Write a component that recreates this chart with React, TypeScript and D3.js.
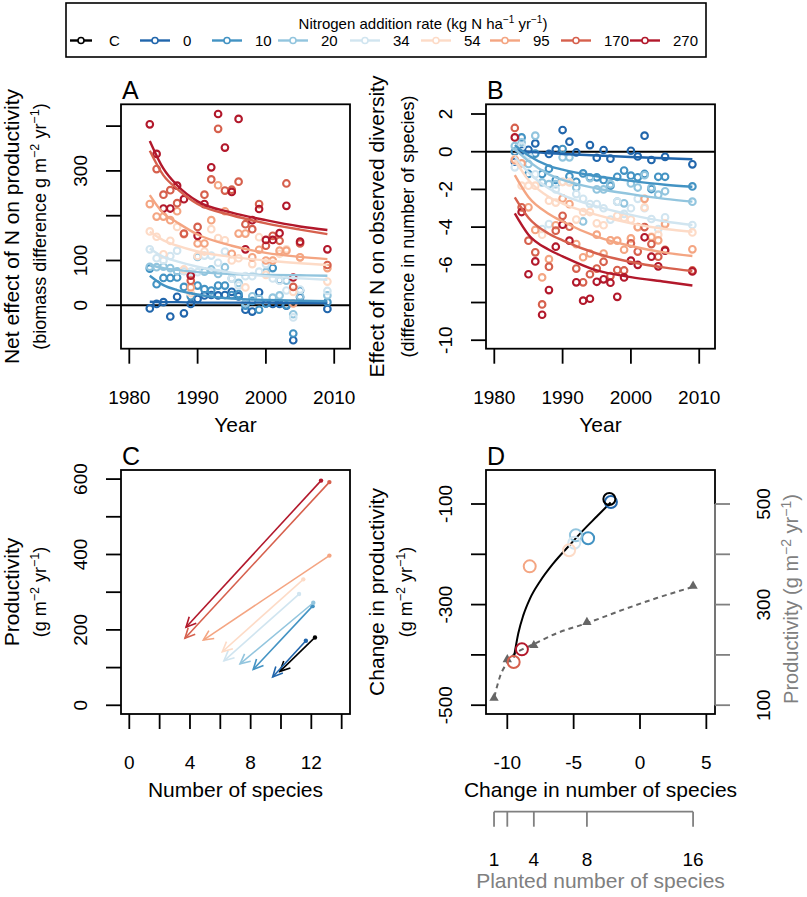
import React from 'react';
import * as d3 from 'd3';

// ---------- data ----------
const LEVELS = ['C', '0', '10', '20', '34', '54', '95', '170', '270'];
const COLORS = ['#000000', '#2166ac', '#4393c3', '#92c5de', '#d1e5f0', '#fddbc7', '#f4a582', '#d6604d', '#b2182b'];

const YEARS = [1983, 1984, 1985, 1986, 1987, 1988, 1989, 1990, 1991, 1992, 1993, 1994, 1995, 1996, 1997, 1998, 1999, 2000, 2001, 2002, 2003, 2004, 2005, 2009];

// Panel A: net effect of N on productivity (g m-2 yr-1)
const A_0 = [-7, 3, 7, -25, 19, -18, 3, 14, 22, 23, 22, 23, 30, 20, -10, -14, 29, 4, 3, 3, -1, -78, 18, -8];
const A_10 = [82, 47, 61, 61, 62, 41, 20, 44, 36, 33, 44, 44, 23, 25, -1, 10, -10, 4, 83, 56, 0, -63, 33, 7];
const A_20 = [86, 85, 86, 83, 76, 77, 68, 108, 75, 80, 70, 85, 60, 50, 5, 20, 15, 74, 17, 22, 55, -20, 20, 22];
const A_34 = [125, 105, 100, 110, 122, 77, 75, 74, 111, 111, 95, 120, 60, 44, 65, 65, 75, 92, 60, 55, 33, -27, 35, 32];
const A_54 = [165, 153, 114, 144, 175, 80, 27, 110, 120, 170, 150, 145, 100, 105, 40, 92, 152, 68, 100, 115, 125, 30, 107, 53];
const A_95 = [226, 198, 198, 190, 210, 159, 40, 138, 138, 190, 268, 210, 115, 160, 160, 107, 124, 100, 100, 122, 122, 4, 107, 83];
const A_170 = [null, 304, 247, 257, 228, 160, 55, 175, 247, 281, 394, 256, 258, 276, 181, 170, 226, 133, 155, 144, 272, 41, 138, 90];
const A_270 = [404, 338, 216, 216, 267, 237, 66, 155, 226, 308, 427, 352, 253, 416, 125, 190, 215, 146, 146, 161, 222, 62, 142, 125];
const A_SERIES = [A_0, A_10, A_20, A_34, A_54, A_95, A_170, A_270];

const TREND_YEARS_A = [1983, 1985, 1987, 1990, 1995, 2000, 2005, 2009];
const A_TREND_0 = [8, 7, 7, 6, 6, 6, 5, 5];
const A_TREND_10 = [66, 45, 34, 24, 15, 12, 10, 9];
const A_TREND_20 = [90, 83, 79, 74, 70, 68, 67, 66];
const A_TREND_34 = [127, 108, 98, 86, 73, 65, 60, 57];
const A_TREND_54 = [164, 145, 133, 120, 108, 100, 94, 90];
const A_TREND_95 = [246, 205, 185, 158, 133, 117, 108, 103];
const A_TREND_170 = [345, 290, 260, 226, 201, 183, 169, 159];
const A_TREND_270 = [367, 305, 268, 232, 207, 190, 176, 168];
const A_TRENDS = [A_TREND_0, A_TREND_10, A_TREND_20, A_TREND_34, A_TREND_54, A_TREND_95, A_TREND_170, A_TREND_270];

// Panel B: effect of N on observed diversity (species)
const B_0 = [-0.53, 0.05, 0.1, 0.44, null, -0.12, 0.12, 1.15, 0.53, -0.04, null, 0.35, -0.32, 0.09, -0.37, null, null, 0.05, -0.25, 0.85, -0.44, null, -0.27, -0.67];
const B_10 = [0.0, 0.76, -1.18, -0.1, -1.18, -0.9, -1.5, 0.14, -1.3, -1.6, -1.15, -1.36, -1.36, -1.5, -1.8, -1.33, -1.0, -1.27, -1.36, -1.18, -1.98, -1.33, -1.33, -1.84];
const B_20 = [0.3, 0.5, -0.65, 0.85, -1.63, -1.72, -1.72, -0.3, -0.3, -1.9, -3.7, -1.4, -2.0, -2.0, -1.72, -2.65, -2.74, -1.68, -1.9, -1.25, -1.9, -2.28, -2.1, -2.65];
const B_34 = [-0.83, 0.3, -0.2, -1.2, -4.1, -3.84, -2.0, -1.6, -1.6, -2.25, -2.5, -2.78, -2.78, -3.0, -3.6, -2.65, -3.3, -3.0, -2.5, -3.0, -3.57, -4.1, -3.48, -3.89];
const B_54 = [-0.39, -1.8, -1.8, -1.8, -4.4, -2.6, -2.7, -1.6, -1.63, -3.6, -3.2, -3.2, -3.8, -3.9, -4.7, -3.4, -3.5, -3.6, -4.0, -2.95, -4.5, -4.4, -3.8, -4.28];
const B_95 = [-0.45, -0.62, -2.95, -4.15, -6.67, -5.7, -3.9, -2.48, -2.78, -4.9, -5.6, -5.4, -4.4, -5.4, -4.7, -4.72, -5.2, -4.6, -4.0, -2.5, -4.54, -4.7, -3.85, -5.18];
const B_170 = [1.26, -2.95, -4.72, -5.34, -8.1, -6.1, -4.19, -3.4, -3.98, -6.2, -6.93, -6.5, -6.2, -5.84, -6.6, -6.28, -6.3, -4.86, -5.3, -4.0, -4.9, -5.57, -5.2, -6.3];
const B_270 = [0.76, -3.2, -6.5, -5.82, -8.65, -7.34, -5.04, -3.87, -4.72, -6.93, -7.9, -7.8, -6.9, -6.77, -6.95, -7.7, -6.67, -5.78, -6.0, -4.54, -5.57, -6.08, -5.25, -6.35];
const B_SERIES = [B_0, B_10, B_20, B_34, B_54, B_95, B_170, B_270];

const TREND_YEARS_B = [1983, 1985, 1988, 1990, 1995, 2000, 2005, 2009];
const B_TREND_0 = [0.05, 0.0, -0.08, -0.12, -0.2, -0.28, -0.35, -0.4];
const B_TREND_10 = [0.35, -0.2, -0.75, -0.95, -1.3, -1.55, -1.75, -1.86];
const B_TREND_20 = [0.15, -0.5, -1.2, -1.5, -1.95, -2.25, -2.5, -2.65];
const B_TREND_34 = [-0.25, -1.1, -1.95, -2.3, -2.9, -3.35, -3.7, -3.89];
const B_TREND_54 = [-0.44, -1.5, -2.4, -2.75, -3.35, -3.8, -4.1, -4.25];
const B_TREND_95 = [-1.24, -2.4, -3.3, -3.7, -4.5, -5.0, -5.35, -5.53];
const B_TREND_170 = [-2.42, -3.5, -4.35, -4.7, -5.4, -5.85, -6.15, -6.33];
const B_TREND_270 = [-3.27, -4.4, -5.2, -5.55, -6.3, -6.65, -6.9, -7.1];
const B_TRENDS = [B_TREND_0, B_TREND_10, B_TREND_20, B_TREND_34, B_TREND_54, B_TREND_95, B_TREND_170, B_TREND_270];

// Panel C: start (early) and end (late) species number and productivity, per level (C,0,...,270)
const C_START_SPECIES = [12.24, 11.64, 12.08, 12.13, 11.19, 11.47, 13.19, 13.19, 12.64];
const C_START_PROD = [180, 171, 263, 272, 295, 334, 397, 592, 596];
const C_END_SPECIES = [9.93, 9.45, 8.17, 7.3, 6.24, 6.13, 4.88, 3.67, 3.74];
const C_END_PROD = [90, 75, 95, 110, 118, 142, 173, 178, 207];

// Panel D: fitted curve (change in species vs change in productivity)
const D_FIT_X = [-9.5, -9.17, -8.79, -8.29, -7.54, -6.53, -5.28, -4.27, -3.26, -2.21];
const D_FIT_Y = [-405, -357, -321, -288, -254, -218, -181, -152, -125, -97];

// Panel D: planted diversity experiment (grey)
const PLANTED = [1, 2, 4, 8, 16];
const PLANTED_LABELS = ['1', '', '4', '8', '16'];
const PLANTED_PROD = [114, 191, 219, 265, 337];
const PLANTED_FIT_S = [1.02, 1.45, 1.95, 2.45, 3.21, 3.96, 5.72, 7.98, 10.74, 13.26, 15.97];
const PLANTED_FIT_PROD = [116, 157, 183, 200, 212, 221, 243, 263, 290, 313, 335];
const PLANTED_OFFSET = 12; // planted species aligned on change axis at (S - 12)

// ticks
const YEAR_TICKS = [1980, 1990, 2000, 2010];
const A_TICKS = [0, 100, 200, 300, 400];
const A_TICK_LABELS = [0, 100, 300];
const B_TICKS = [2, 0, -2, -4, -6, -8, -10];
const B_TICK_LABELS = [2, 0, -2, -4, -6, -10];
const C_YTICKS = [0, 100, 200, 300, 400, 500, 600];
const C_YTICK_LABELS = [0, 200, 400, 600];
const C_XTICKS = [0, 2, 4, 6, 8, 10, 12, 14];
const C_XTICK_LABELS = [0, 4, 8, 12];
const D_XTICKS = [-10, -5, 0, 5];
const D_YTICKS = [-500, -400, -300, -200, -100];
const D_YTICK_LABELS = [-500, -300, -100];
const D_RTICKS = [100, 200, 300, 400, 500];
const D_RTICK_LABELS = [100, 300, 500];

// ---------- layout ----------
const FONT = 'Liberation Sans, Arial, Helvetica, sans-serif';
const L1 = 121, R1 = 350, L2 = 486, R2 = 715;
const T1 = 104.3, B1 = 348.7, T2 = 470, B2 = 714;
const GREY = '#808080';

const xYearA = d3.scaleLinear().domain([1978.785, 2012.31]).range([L1, R1]);
const xYearB = d3.scaleLinear().domain([1978.785, 2012.31]).range([L2, R2]);
const yA = d3.scaleLinear().domain([-96.9, 448.7]).range([B1, T1]);
const yB = d3.scaleLinear().domain([-10.45, 2.515]).range([B1, T1]);
const xC = d3.scaleLinear().domain([-0.547, 14.549]).range([L1, R1]);
const yC = d3.scaleLinear().domain([-23.1, 624.1]).range([B2, T2]);
const xD = d3.scaleLinear().domain([-11.605, 5.652]).range([L2, R2]);
const yD = d3.scaleLinear().domain([-517.5, -32.4]).range([B2, T2]);
const yDR = d3.scaleLinear().domain([82.5, 567.6]).range([B2, T2]);

const Units = ({ prefix, d = 7 }: { prefix: string; d?: number }) => (
  <>
    {prefix}m
    <tspan dy={-d} fontSize="0.7em">{'\u22122'}</tspan>
    <tspan dy={d}> yr</tspan>
    <tspan dy={-d} fontSize="0.7em">{'\u22121'}</tspan>
    <tspan dy={d}>)</tspan>
  </>
);

function Box({ l, r, t, b }: { l: number; r: number; t: number; b: number }) {
  return <rect x={l} y={t} width={r - l} height={b - t} fill="none" stroke="#000" strokeWidth={1.8} />;
}

function XAxis({ scale, ticks, labels, y }: any) {
  return (
    <g>
      {ticks.map((v: number) => (
        <line key={'t' + v} x1={scale(v)} x2={scale(v)} y1={y} y2={y + 15} stroke="#000" strokeWidth={1.8} />
      ))}
      {labels.map((v: number) => (
        <text key={'l' + v} x={scale(v)} y={y + 55} textAnchor="middle" fontSize={19} fontFamily={FONT}>
          {String(v)}
        </text>
      ))}
    </g>
  );
}

function YAxis({ scale, ticks, labels, x, side = 'left', color = '#000' }: any) {
  const dir = side === 'left' ? -1 : 1;
  const lx = side === 'left' ? x - 34 : x + 55;
  return (
    <g>
      {side === 'right' && (
        <line x1={x} x2={x} y1={scale(d3.min(ticks) as number)} y2={scale(d3.max(ticks) as number)} stroke={color} strokeWidth={1.8} />
      )}
      {ticks.map((v: number) => (
        <line key={'t' + v} x1={x} x2={x + dir * 15} y1={scale(v)} y2={scale(v)} stroke={color} strokeWidth={1.8} />
      ))}
      {labels.map((v: number) => (
        <text key={'l' + v} transform={`translate(${lx},${scale(v)}) rotate(-90)`} textAnchor="middle" fontSize={19} fontFamily={FONT} fill="#000">
          {String(v)}
        </text>
      ))}
    </g>
  );
}

function RotText({ x, y, size, children, fill = '#000' }: any) {
  return (
    <text transform={`translate(${x},${y}) rotate(-90)`} textAnchor="middle" fontSize={size} fontFamily={FONT} fill={fill}>
      {children}
    </text>
  );
}

function TimePanel({ xs, ys, series, trends, trendYears, l, r }: any) {
  const line = d3
    .line<[number, number]>()
    .x((d) => xs(d[0]))
    .y((d) => ys(d[1]))
    .curve(d3.curveMonotoneX);
  return (
    <g>
      <line x1={l} x2={r} y1={ys(0)} y2={ys(0)} stroke="#000" strokeWidth={2} />
      {series.map((vals: (number | null)[], si: number) => (
        <g key={'p' + si}>
          {vals.map((v, i) =>
            v === null ? null : (
              <circle key={i} cx={xs(YEARS[i])} cy={ys(v)} r={3.3} fill="none" stroke={COLORS[si + 1]} strokeWidth={2.1} />
            )
          )}
        </g>
      ))}
      {trends.map((vals: number[], si: number) => (
        <path
          key={'t' + si}
          d={line(vals.map((v, i) => [trendYears[i], v] as [number, number])) || ''}
          fill="none"
          stroke={COLORS[si + 1]}
          strokeWidth={2.4}
        />
      ))}
    </g>
  );
}

function Arrows() {
  return (
    <g>
      {LEVELS.map((lev, i) => {
        const sx = xC(C_START_SPECIES[i]);
        const sy = yC(C_START_PROD[i]);
        const ex = xC(C_END_SPECIES[i]);
        const ey = yC(C_END_PROD[i]);
        const ang = Math.atan2(sy - ey, sx - ex);
        const hl = 11;
        const a1 = ang + 0.45;
        const a2 = ang - 0.45;
        return (
          <g key={lev} stroke={COLORS[i]} strokeWidth={1.6} fill="none">
            <line x1={sx} y1={sy} x2={ex} y2={ey} />
            <polyline points={`${ex + hl * Math.cos(a1)},${ey + hl * Math.sin(a1)} ${ex},${ey} ${ex + hl * Math.cos(a2)},${ey + hl * Math.sin(a2)}`} />
            <circle cx={sx} cy={sy} r={2.2} fill={COLORS[i]} stroke="none" />
          </g>
        );
      })}
    </g>
  );
}

function PanelD() {
  const fit = d3
    .line<[number, number]>()
    .x((d) => xD(d[0]))
    .y((d) => yD(d[1]))
    .curve(d3.curveMonotoneX);
  const planted = d3
    .line<[number, number]>()
    .x((d) => xD(d[0] - PLANTED_OFFSET))
    .y((d) => yDR(d[1]))
    .curve(d3.curveMonotoneX);
  const tri = d3.symbol().type(d3.symbolTriangle).size(38)();
  return (
    <g>
      <path
        d={planted(PLANTED_FIT_S.map((s, i) => [s, PLANTED_FIT_PROD[i]] as [number, number])) || ''}
        fill="none"
        stroke="#666"
        strokeWidth={2}
        strokeDasharray="5,4"
      />
      {PLANTED.map((s, i) => (
        <path key={s} d={tri || ''} transform={`translate(${xD(s - PLANTED_OFFSET)},${yDR(PLANTED_PROD[i])})`} fill="#666" />
      ))}
      <path d={fit(D_FIT_X.map((x, i) => [x, D_FIT_Y[i]] as [number, number])) || ''} fill="none" stroke="#000" strokeWidth={2} />
      {[1, 2, 3, 4, 5, 6, 7, 8, 0].map((i) => (
        <circle
          key={i}
          cx={xD(C_END_SPECIES[i] - C_START_SPECIES[i])}
          cy={yD(C_END_PROD[i] - C_START_PROD[i])}
          r={6}
          fill="none"
          stroke={COLORS[i]}
          strokeWidth={2}
        />
      ))}
    </g>
  );
}

function Legend() {
  const centers = [81, 155, 227, 293, 365, 436, 505, 576, 645];
  return (
    <g fontFamily={FONT}>
      <rect x={66} y={3} width={640} height={54} fill="#fff" stroke="#000" strokeWidth={1.6} />
      <text x={423} y={29} textAnchor="middle" fontSize={15}>
        Nitrogen addition rate (kg N ha
        <tspan dy={-6} fontSize={10}>{'\u22121'}</tspan>
        <tspan dy={6}> yr</tspan>
        <tspan dy={-6} fontSize={10}>{'\u22121'}</tspan>
        <tspan dy={6}>)</tspan>
      </text>
      {LEVELS.map((lev, i) => (
        <g key={lev}>
          <line x1={i === 0 ? 70 : centers[i] - 15} x2={i === 0 ? 92 : centers[i] + 15} y1={40.5} y2={40.5} stroke={COLORS[i]} strokeWidth={2.4} />
          <circle cx={centers[i]} cy={40.5} r={3} fill="#fff" stroke={COLORS[i]} strokeWidth={1.6} />
          <text x={centers[i] + 28} y={46} fontSize={15}>
            {lev}
          </text>
        </g>
      ))}
    </g>
  );
}

export default function App() {
  const cx1 = (L1 + R1) / 2;
  const cx2 = (L2 + R2) / 2;
  const cyTop = (T1 + B1) / 2;
  const cyBot = (T2 + B2) / 2;
  return (
    <div style={{ position: 'absolute', left: 0, top: 0 }}>
      <svg width={807} height={897} style={{ display: 'block', background: '#fff' }}>
        <rect x={0} y={0} width={807} height={897} fill="#fff" />
        <Legend />

        {/* Panel A */}
        <TimePanel xs={xYearA} ys={yA} series={A_SERIES} trends={A_TRENDS} trendYears={TREND_YEARS_A} l={L1} r={R1} />
        <Box l={L1} r={R1} t={T1} b={B1} />
        <XAxis scale={xYearA} ticks={YEAR_TICKS} labels={YEAR_TICKS} y={B1} />
        <YAxis scale={yA} ticks={A_TICKS} labels={A_TICK_LABELS} x={L1} />
        <text x={122} y={99} fontSize={25} fontFamily={FONT}>A</text>
        <RotText x={18.5} y={cyTop} size={21}>Net effect of N on productivity</RotText>
        <RotText x={46} y={cyTop} size={18}>
          <Units prefix="(biomass difference g " />
        </RotText>
        <text x={cx1} y={432} textAnchor="middle" fontSize={21} fontFamily={FONT}>Year</text>

        {/* Panel B */}
        <TimePanel xs={xYearB} ys={yB} series={B_SERIES} trends={B_TRENDS} trendYears={TREND_YEARS_B} l={L2} r={R2} />
        <Box l={L2} r={R2} t={T1} b={B1} />
        <XAxis scale={xYearB} ticks={YEAR_TICKS} labels={YEAR_TICKS} y={B1} />
        <YAxis scale={yB} ticks={B_TICKS} labels={B_TICK_LABELS} x={L2} />
        <text x={487} y={99} fontSize={25} fontFamily={FONT}>B</text>
        <RotText x={383.5} y={cyTop} size={21}>Effect of N on observed diversity</RotText>
        <RotText x={414} y={cyTop} size={18}>(difference in number of species)</RotText>
        <text x={cx2} y={432} textAnchor="middle" fontSize={21} fontFamily={FONT}>Year</text>

        {/* Panel C */}
        <Arrows />
        <Box l={L1} r={R1} t={T2} b={B2} />
        <XAxis scale={xC} ticks={C_XTICKS} labels={C_XTICK_LABELS} y={B2} />
        <YAxis scale={yC} ticks={C_YTICKS} labels={C_YTICK_LABELS} x={L1} />
        <text x={122} y={465} fontSize={25} fontFamily={FONT}>C</text>
        <RotText x={18.5} y={cyBot} size={21}>Productivity</RotText>
        <RotText x={46} y={cyBot} size={18}>
          <Units prefix="(g " />
        </RotText>
        <text x={cx1} y={797} textAnchor="middle" fontSize={21} fontFamily={FONT}>Number of species</text>

        {/* Panel D */}
        <PanelD />
        <Box l={L2} r={R2} t={T2} b={B2} />
        <XAxis scale={xD} ticks={D_XTICKS} labels={D_XTICKS} y={B2} />
        <YAxis scale={yD} ticks={D_YTICKS} labels={D_YTICK_LABELS} x={L2} />
        <YAxis scale={yDR} ticks={D_RTICKS} labels={D_RTICK_LABELS} x={R2} side="right" color={GREY} />
        <text x={487} y={465} fontSize={25} fontFamily={FONT}>D</text>
        <RotText x={383.5} y={cyBot} size={21}>Change in productivity</RotText>
        <RotText x={412} y={cyBot} size={18}>
          <Units prefix="(g " />
        </RotText>
        <RotText x={798} y={599} size={20} fill={GREY}>
          Productivity{'  '}
          <Units prefix="(g " />
        </RotText>
        <text x={cx2} y={797} textAnchor="middle" fontSize={21} fontFamily={FONT}>Change in number of species</text>

        {/* planted number of species axis */}
        <g>
          <line x1={xD(PLANTED[0] - PLANTED_OFFSET)} x2={xD(PLANTED[PLANTED.length - 1] - PLANTED_OFFSET)} y1={811.7} y2={811.7} stroke={GREY} strokeWidth={1.8} />
          {PLANTED.map((s, i) => (
            <g key={s}>
              <line x1={xD(s - PLANTED_OFFSET)} x2={xD(s - PLANTED_OFFSET)} y1={811.7} y2={826.7} stroke={GREY} strokeWidth={1.8} />
              <text x={xD(s - PLANTED_OFFSET)} y={866} textAnchor="middle" fontSize={19} fontFamily={FONT}>
                {PLANTED_LABELS[i]}
              </text>
            </g>
          ))}
          <text x={cx2} y={888} textAnchor="middle" fontSize={21} fontFamily={FONT} fill={GREY}>
            Planted number of species
          </text>
        </g>
      </svg>
    </div>
  );
}
